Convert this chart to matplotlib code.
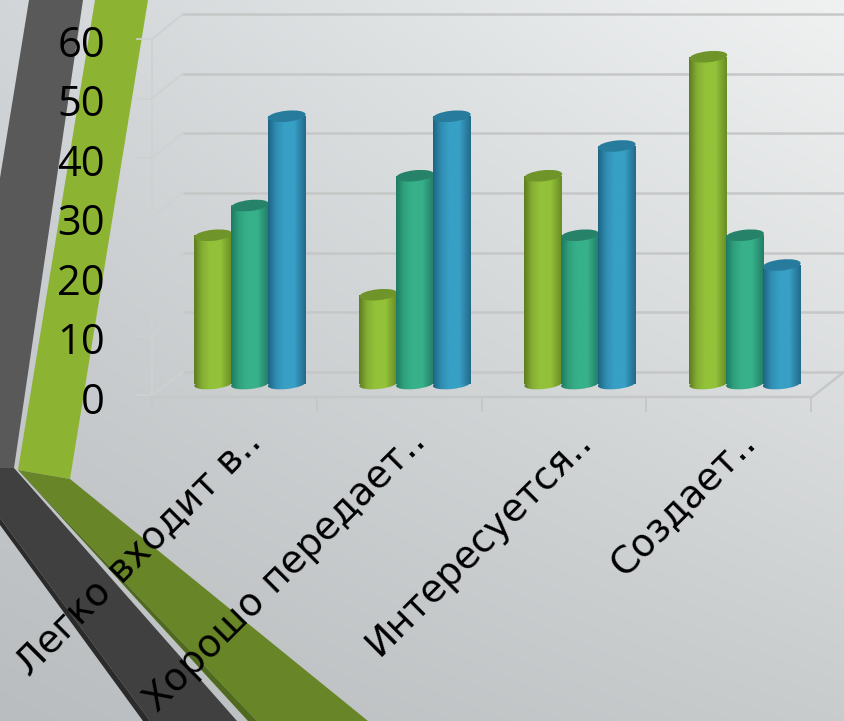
import numpy as np
import matplotlib
matplotlib.use("Agg")
import matplotlib.pyplot as plt
from matplotlib.colors import LinearSegmentedColormap, to_rgb
from matplotlib.patches import Polygon, Ellipse
from matplotlib.transforms import IdentityTransform, ScaledTranslation

categories = ["Легко входит в..", "Хорошо передает..", "Интересуется..", "Создает.."]
series_a = [25, 15, 35, 55]
series_b = [30, 35, 25, 25]
series_c = [45, 45, 40, 20]
y_ticks = [0, 10, 20, 30, 40, 50, 60]

W, H = 844, 721
fig = plt.figure(figsize=(W / 100, H / 100), dpi=100)

# ---------- slide background and decoration (pixel space) ----------
bg = fig.add_axes([0, 0, 1, 1], zorder=0)
bg.set_xlim(0, W)
bg.set_ylim(H, 0)
bg.axis("off")
c = np.array([[to_rgb("#d2d6d8"), to_rgb("#f0f2f2")], [to_rgb("#b9bdbf"), to_rgb("#c9cccd")]])
u = np.linspace(0, 1, 200)[None, :, None]
v = np.linspace(0, 1, 200)[:, None, None]
grad = (1 - v) * ((1 - u) * c[0, 0] + u * c[0, 1]) + v * ((1 - u) * c[1, 0] + u * c[1, 1])
bg.imshow(grad, extent=(0, W, H, 0), aspect="auto", interpolation="bilinear")
shapes = [
    ([(29, 0), (83, 0), (14, 468), (0, 468), (0, 178)], "#595959"),
    ([(95, 0), (148, 0), (70, 479), (18, 470)], "#8db333"),
    ([(18, 470), (70, 479), (368, 721), (257, 721)], "#688527"),
    ([(18, 470), (257, 721), (248, 721)], "#4f6a1e"),
    ([(0, 468), (14, 468), (237, 721), (150, 721), (0, 518)], "#404040"),
    ([(0, 518), (150, 721), (143, 721), (0, 525)], "#2b2b2b"),
]
for pts, col in shapes:
    bg.add_patch(Polygon(pts, closed=True, fc=col, ec="none"))

# 3-D frame: back wall, side wall, floor
wall = "#c6c7c7"
side = "#cfd0d1"
for t in y_ticks:
    back_y = 372 - t * 5.97
    front_y = 395 - t * 5.93
    bg.plot([183, W], [back_y, back_y], color=wall, lw=1.8, zorder=2)
    bg.plot([152, 183], [front_y, back_y], color=side, lw=1.4, zorder=2)
    bg.plot([137, 152], [front_y, front_y], color=side, lw=1.2, zorder=2)
bg.plot([152, 152], [39, 397], color=side, lw=1.2, zorder=2)
bg.plot([152, 812, W], [397, 397, 372], color=wall, lw=1.8, zorder=2)
for x in [152, 317, 482, 646, 811]:
    bg.plot([x, x], [397, 411], color=wall, lw=1.4, zorder=2)
bg.set_xlim(0, W)
bg.set_ylim(H, 0)

# ---------- chart ----------
px_per_unit = 5.95
y0_px, x0_px = 384, 250
step_x = 165
ymin, ymax = -10, 60
left = x0_px - step_x / 2
bottom_px = y0_px + 10 * px_per_unit
top_px = y0_px - 60 * px_per_unit
ax = fig.add_axes([left / W, 1 - bottom_px / H, 4 * step_x / W, (bottom_px - top_px) / H], zorder=1)
ax.patch.set_visible(False)
for s in ax.spines.values():
    s.set_visible(False)

bar_w = 38 / step_x
offset = 36.7 / step_x
styles = [
    (series_a, ["#5d7d20", "#84ad33", "#93c23a", "#6a8c24"], "#6f9429"),
    (series_b, ["#1f7a62", "#2fa07c", "#37b18a", "#237d66"], "#26836a"),
    (series_c, ["#1e6484", "#2f8cb0", "#389fc5", "#226a8b"], "#277b9c"),
]
xs = np.arange(len(categories))
z = 2
for k, (vals, ramp, top_col) in enumerate(styles):
    cmap = LinearSegmentedColormap.from_list(
        f"s{k}", [(0, ramp[0]), (0.2, ramp[1]), (0.42, ramp[2]), (0.7, ramp[2]), (1, ramp[3])])
    g = np.linspace(0, 1, 64)[None, :]
    pos = xs + (k - 1) * offset
    bars = ax.bar(pos, vals, width=bar_w, color=ramp[2], zorder=z)
    for bar, x, val in zip(bars, pos, vals):
        x0, x1 = x - bar_w / 2, x + bar_w / 2
        im = ax.imshow(g, cmap=cmap, extent=(x0, x1, 0, val), aspect="auto", zorder=z + 0.1)
        im.set_clip_path(bar)
        base = Ellipse((0, 0), 38, 10, angle=6, fc="none", ec="none", zorder=z,
                       transform=IdentityTransform() + ScaledTranslation(x, 0, ax.transData))
        ax.add_patch(base)
        im2 = ax.imshow(g, cmap=cmap, extent=(x0, x1, -1.2, 0), aspect="auto", zorder=z + 0.1)
        im2.set_clip_path(base)
        ax.add_patch(Ellipse((0, 0), 38, 11, angle=6, fc=top_col, ec="none", zorder=z + 0.2,
                             transform=IdentityTransform() + ScaledTranslation(x, val, ax.transData)))
    z += 1

ax.set_xlim(-0.5, 3.5)
ax.set_ylim(ymin, ymax)
ax.set_yticks(y_ticks)
ax.set_yticklabels([str(t) for t in y_ticks], fontsize=30, family="Open Sans", color="black")
ax.set_xticks(xs)
ax.set_xticklabels(categories, fontsize=27.4, family="DejaVu Sans", color="black",
                   rotation=45, ha="right", va="top", rotation_mode="anchor")
ax.tick_params(axis="both", length=0)
ax.tick_params(axis="y", pad=45)
ax.tick_params(axis="x", pad=0)
for lab in ax.get_yticklabels():
    lab.set_transform(lab.get_transform() + ScaledTranslation(0, -10 / 72, fig.dpi_scale_trans))
for lab in ax.get_xticklabels():
    lab.set_transform(lab.get_transform() + ScaledTranslation(-7 / 100, 20 / 100, fig.dpi_scale_trans))

fig.savefig("out.png", dpi=100)
